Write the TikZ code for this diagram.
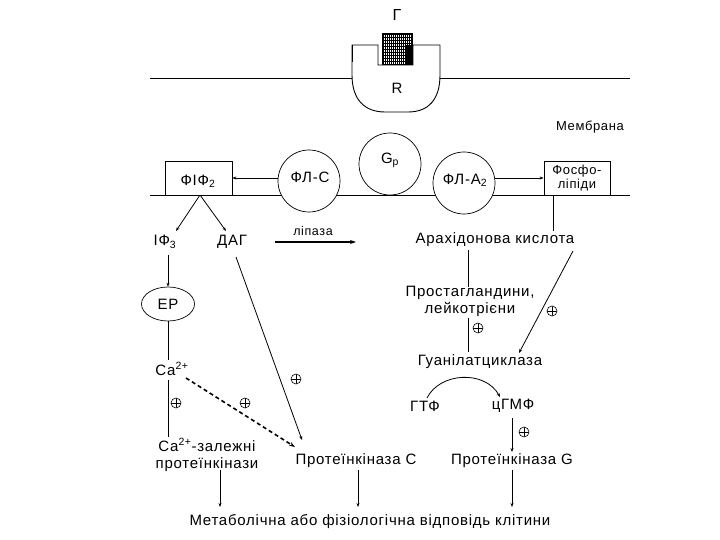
\documentclass[tikz,border=0pt]{standalone}
\usepackage{fontspec}
\setmainfont{Liberation Sans}[LetterSpace=5]
\usetikzlibrary{arrows.meta,shapes.geometric}
\begin{document}
\begin{tikzpicture}[x=1pt,y=-1pt,
  lbl/.style={inner sep=0pt,font=\fontsize{15}{17}\selectfont,align=center},
  plus/.style={draw,circle,minimum size=10pt,inner sep=0pt,line width=0.6pt,
    path picture={\draw[line width=0.6pt] (path picture bounding box.west) -- (path picture bounding box.east)
      (path picture bounding box.north) -- (path picture bounding box.south);}},
  conn/.style={line width=0.8pt},
  arr/.style={line width=0.8pt,-{Stealth[length=4pt,width=3pt]}},
  enzyme/.style={draw,circle,fill=white,minimum size=62pt,inner sep=0pt,line width=0.7pt},
  boxn/.style={draw,fill=white,line width=0.8pt,inner sep=0pt}]
\useasboundingbox (0,0) rectangle (720,540);
% membranes
\draw[line width=0.9pt] (150,78) -- (630,78);
\draw[line width=0.9pt] (150,195) -- (630,195);
% receptor
\draw[line width=0.9pt,fill=white] (352,45) -- (352,75) .. controls (352,100) and (365,112) .. (385,112) -- (408,112) .. controls (428,112) and (440,100) .. (440,75) -- (440,45) -- (413,45) -- (413,65) -- (378,65) -- (378,45) -- cycle;
\draw[line width=1.8pt] (352.5,45) -- (352.5,62);
% ligand hatched block
\fill[white] (382,33) rectangle (412,64);
\foreach \i in {383,385,...,411} {\draw[line width=0.5pt] (\i,33) -- (\i,64);}
\foreach \j in {34,37,...,64} {\draw[line width=0.5pt] (382,\j) -- (412,\j);}
\fill (405,45) rectangle (412,64);
\draw[line width=0.8pt] (382,33) rectangle (412,64);
\node[lbl,font=\fontsize{16}{16}\selectfont] (G) at (397,15) {Г};
\node[lbl] (R) at (397,88) {R};
\node[lbl,font=\fontsize{13}{15}\selectfont] (memb) at (590,127) {Мембрана};
% enzymes
\node[enzyme] (plc) at (309,181) {};
\node[lbl] at (310,177) {ФЛ-С};
\node[enzyme] (gp) at (390,164) {};
\node[lbl] at (390,160) {G\textsubscript{p}};
\node[enzyme] (pla) at (464,183) {};
\node[lbl] at (465,180) {ФЛ-А\textsubscript{2}};
% boxes
\node[boxn,minimum width=67pt,minimum height=34pt] (pip) at (198.5,178) {};
\draw[line width=1.8pt] (165.5,161) -- (165.5,195);
\node[lbl] at (198,181) {ФІФ\textsubscript{2}};
\node[boxn,minimum width=66pt,minimum height=34pt] (phl) at (577,178) {};
\node[lbl,font=\fontsize{13}{14}\selectfont] at (577,178) {Фосфо-\\ліпіди};
% arrows on membrane
\draw[arr] (plc.west |- 0,178) -- (pip.east |- 0,178);
\draw[arr] (pla.east |- 0,178) -- (phl.west |- 0,178);
% text nodes
\node[lbl] (ip3) at (165,242) {ІФ\textsubscript{3}};
\node[lbl] (dag) at (232,242) {ДАГ};
\node[lbl,font=\fontsize{12.5}{14}\selectfont] (lip) at (313,231) {ліпаза};
\node[lbl] (ara) at (495,240) {Арахідонова кислота};
\node[draw,ellipse,minimum width=53pt,minimum height=34pt,inner sep=0pt,line width=0.7pt,font=\fontsize{15}{17}\selectfont] (er) at (168,304) {ЕР};
\node[lbl] (prost) at (470,301) {Простагландини,\\лейкотрієни};
\node[lbl] (gc) at (480,362) {Гуанілатциклаза};
\node[lbl] (gtp) at (425,406) {ГТФ};
\node[lbl] (cgmp) at (513,406) {цГМФ};
\node[lbl] (ca) at (172,369) {Са\textsuperscript{2+}};
\node[lbl] (cadep) at (207,455) {Са\textsuperscript{2+}-залежні\\протеїнкінази};
\node[lbl] (pkc) at (356,461) {Протеїнкіназа С};
\node[lbl] (pkg) at (512,461) {Протеїнкіназа G};
\node[lbl] (resp) at (370,522) {Метаболічна або фізіологічна відповідь клітини};
% plus signs
\node[plus] (p1) at (552,311) {};
\node[plus] (p2) at (478,328) {};
\node[plus] (p3) at (296,379) {};
\node[plus] (p4) at (176,403) {};
\node[plus] (p5) at (245,403) {};
\node[plus] (p6) at (524,432) {};
% connectors
\coordinate (pipb) at (200,195);
\draw[arr] (pipb) -- (176,231);
\draw[arr] (pipb) -- (226,231);
\draw[arr,line width=2pt,-{Stealth[length=6pt,width=4pt]}] (275,242) -- (356,242);
\draw[conn] (553,195) -- (553,231);
\draw[arr] (168,255) -- (er.north);
\draw[conn] (er.south) -- (168,360);
\draw[conn] (168,380) -- (168,437);
\draw[line width=1.6pt,dashed,dash pattern=on 4pt off 3pt,-{Stealth[length=6pt,width=4pt]}] (186,378) -- (295,447);
\draw[arr] (236,257) -- (302,440);
\draw[conn] (468,250) -- (468,287);
\draw[conn] (468,318) -- (468,352);
\draw[arr] (573,251) -- (519,353);
\draw[arr] (427,398) .. controls (440,372) and (485,370) .. (500,397);
\draw[arr] (512,418) -- (512,452);
\draw[arr] (220,470) -- (220,507);
\draw[arr] (358,470) -- (358,507);
\draw[arr] (512,470) -- (512,507);
\end{tikzpicture}
\end{document}
